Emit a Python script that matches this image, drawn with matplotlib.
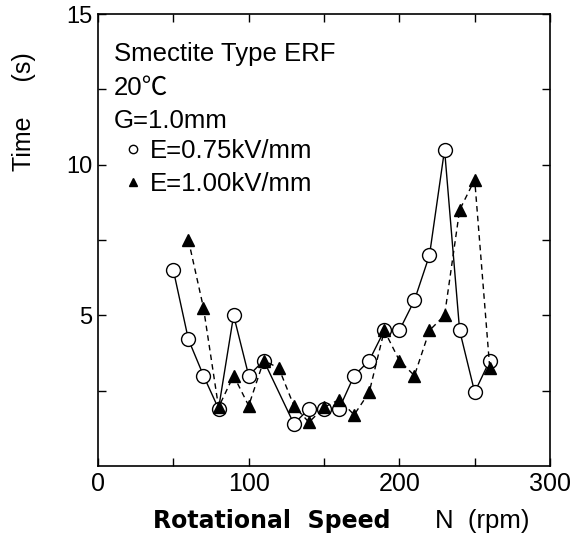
import matplotlib
matplotlib.use("Agg")
import matplotlib.pyplot as plt
from matplotlib.lines import Line2D

plt.rcParams["font.family"] = ["Liberation Sans", "Noto Sans CJK JP", "DejaVu Sans"]

# E = 0.75 kV/mm (open circles, solid line)
speed_075 = [50, 60, 70, 80, 90, 100, 110, 130, 140, 150, 160, 170, 180, 190, 200, 210, 220, 230, 240, 250, 260]
time_075 = [6.5, 4.2, 3.0, 1.9, 5.0, 3.0, 3.5, 1.4, 1.9, 1.9, 1.9, 3.0, 3.5, 4.5, 4.5, 5.5, 7.0, 10.5, 4.5, 2.45, 3.5]

# E = 1.00 kV/mm (filled triangles, dashed line)
speed_100 = [60, 70, 80, 90, 100, 110, 120, 130, 140, 150, 160, 170, 180, 190, 200, 210, 220, 230, 240, 250, 260]
time_100 = [7.5, 5.25, 1.95, 3.0, 2.0, 3.5, 3.25, 2.0, 1.45, 1.95, 2.2, 1.7, 2.45, 4.5, 3.5, 3.0, 4.5, 5.0, 8.5, 9.5, 3.25]

x_major = [0, 100, 200, 300]
x_minor = [50, 150, 250]
y_major = [5, 10, 15]
y_minor = [2.5, 7.5, 12.5]

info_lines = ["Smectite Type ERF", "20℃", "G=1.0mm"]
series_labels = ["E=0.75kV/mm", "E=1.00kV/mm"]

fig = plt.figure(figsize=(5.81, 5.40), dpi=100)
ax = fig.add_axes([0.1687, 0.137, 0.778, 0.837])

ax.plot(speed_075, time_075, "-", color="black", lw=1.0, marker="o",
        ms=10, mfc="white", mec="black", mew=1.0, zorder=3)
ax.plot(speed_100, time_100, "--", color="black", lw=1.0, marker="^",
        ms=8.5, mfc="black", mec="black", dashes=(4, 3), zorder=4)

ax.set_xlim(0, 300)
ax.set_ylim(0, 15)
ax.set_xticks(x_major)
ax.set_xticks(x_minor, minor=True)
ax.set_yticks(y_major)
ax.set_yticks(y_minor, minor=True)
ax.tick_params(which="both", direction="in", top=True, right=True,
               length=6, width=1.0)
ax.tick_params(axis="x", labelsize=18, pad=4)
ax.tick_params(axis="y", labelsize=17, pad=4)
for sp in ax.spines.values():
    sp.set_linewidth(1.2)

for i, line in enumerate(info_lines):
    ax.text(0.035, 0.911 - i * 0.0733, line, transform=ax.transAxes,
            fontsize=18.5, va="center", ha="left")

handles = [
    Line2D([], [], ls="none", marker="o", ms=6, mfc="white", mec="black"),
    Line2D([], [], ls="none", marker="^", ms=6, mfc="black", mec="black"),
]
ax.legend(handles, series_labels, loc="upper left", bbox_to_anchor=(0.06, 0.724),
          frameon=False, fontsize=18.5, handlelength=0.6, handletextpad=0.36,
          labelspacing=0.35, borderaxespad=0, borderpad=0)

fig.text(0.041, 0.793, "Time     (s)", rotation=90, fontsize=18, ha="center", va="center")
fig.text(0.263, 0.035, "Rotational  Speed", fontsize=17, fontweight="bold",
         family="DejaVu Sans", ha="left", va="center")
fig.text(0.749, 0.035, "N  (rpm)", fontsize=18.5, ha="left", va="center")

fig.savefig("out.png", dpi=100)
